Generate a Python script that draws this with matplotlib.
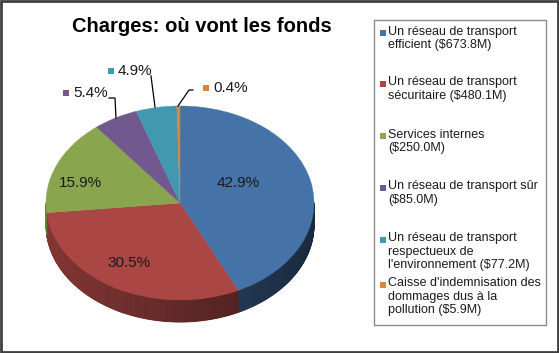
import numpy as np
import matplotlib.pyplot as plt
from matplotlib.patches import Wedge, Rectangle
from matplotlib.collections import PolyCollection
from matplotlib.transforms import Affine2D

plt.rcParams['font.family'] = ['Liberation Sans', 'DejaVu Sans']

# data
labels = ["Un réseau de transport\nefficient ($673.8M)",
          "Un réseau de transport\nsécuritaire ($480.1M)",
          "Services internes\n($250.0M)",
          "Un réseau de transport sûr\n($85.0M)",
          "Un réseau de transport\nrespectueux de\nl'environnement ($77.2M)",
          "Caisse d'indemnisation des\ndommages dus à la\npollution ($5.9M)"]
values = [673.8, 480.1, 250.0, 85.0, 77.2, 5.9]
pct_labels = ["42.9%", "30.5%", "15.9%", "5.4%", "4.9%", "0.4%"]
colors = ["#4572A7", "#AA4643", "#89A54E", "#71588F", "#4198AF", "#DB843D"]

# geometry (pixels)
cx, cy, rx, ry, depth = 180, 203, 134, 97, 22

fig = plt.figure(figsize=(5.59, 3.53), dpi=100)
ax = fig.add_axes([0, 0, 1, 1])
ax.set_xlim(0, 559)
ax.set_ylim(353, 0)
ax.axis('off')

fracs = np.array(values) / sum(values)
cum = np.concatenate([[0], np.cumsum(fracs)])
t_start = 90 - 360 * cum[1:]   # theta1 (deg)
t_end = 90 - 360 * cum[:-1]    # theta2 (deg)

# side of the 3d pie
polys, pcols = [], []
for i in range(len(values)):
    a, b = t_start[i], t_end[i]
    # bring to range covering the lower half [-180, 0]
    for shift in (0, 360, -360):
        lo, hi = max(a + shift, -180), min(b + shift, 0)
        if hi <= lo:
            continue
        ts = np.linspace(lo, hi, max(3, int((hi - lo) * 2)))
        base = np.array(plt.matplotlib.colors.to_rgb(colors[i]))
        for k in range(len(ts) - 1):
            t0, t1 = np.radians(ts[k]), np.radians(ts[k + 1])
            x0, x1 = cx + rx * np.cos(t0), cx + rx * np.cos(t1)
            y0, y1 = cy - ry * np.sin(t0), cy - ry * np.sin(t1)
            polys.append([(x0, y0), (x1, y1), (x1, y1 + depth), (x0, y0 + depth)])
            f = 0.57 - 0.2 * np.cos((t0 + t1) / 2)
            pcols.append(np.clip(base * f, 0, 1))
ax.add_collection(PolyCollection(polys, facecolors=pcols, edgecolors=pcols, linewidths=0.6))

# top face
tr = Affine2D().scale(rx, -ry).translate(cx, cy) + ax.transData
for i in range(len(values)):
    w = Wedge((0, 0), 1, t_start[i], t_end[i], facecolor=colors[i],
              edgecolor=colors[i], linewidth=0.3, transform=tr)
    ax.add_patch(w)

# inside labels
inside_pos = [(238, 183), (129, 263), (80, 183)]
for i, (x, y) in enumerate(inside_pos):
    ax.text(x, y, pct_labels[i], ha='center', va='center', fontsize=11, color='#1a1a1a')

# outside labels with markers and leader lines
outside = {3: (73, 93), 4: (118, 71), 5: (213, 88)}
leaders = {3: [(109, 98), (115, 98), (116, 118)],
           4: [(151, 76), (155, 107)],
           5: [(193, 90), (189, 90), (178, 106)]}
for i, (x, y) in outside.items():
    ax.add_patch(Rectangle((x - 10, y - 3), 6, 6, facecolor=colors[i], edgecolor='none'))
    ax.text(x, y, pct_labels[i], ha='left', va='center', fontsize=11, color='#1a1a1a')
    xs, ys = zip(*leaders[i])
    ax.plot(xs, ys, color='black', linewidth=0.9)

# title
ax.text(202, 27, "Charges: où vont les fonds", ha='center', va='center',
        fontsize=14.5, fontweight='bold')

# legend
ax.add_patch(Rectangle((374, 20), 172, 305, facecolor='white', edgecolor='#8c8c8c', linewidth=1))
leg_first = [33, 84, 136, 188, 240, 285]
for i, lab in enumerate(labels):
    ax.add_patch(Rectangle((379.5, leg_first[i] - 3), 6, 6, facecolor=colors[i], edgecolor='none'))
    ax.text(388, leg_first[i] - 7.5, lab, ha='left', va='top', fontsize=9,
            linespacing=1.15, color='#1a1a1a')

# outer border
ax.add_patch(Rectangle((1, 1), 557, 351, facecolor='none', edgecolor='#404040', linewidth=2))

fig.savefig('out.png', dpi=100)
